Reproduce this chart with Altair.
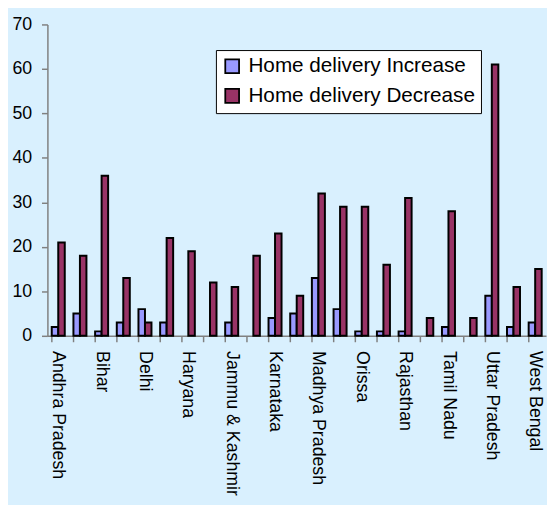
import json
import altair as alt
import pandas as pd

states = ["Andhra Pradesh", "Assam", "Bihar", "Chhattisgarh", "Delhi", "Gujarat",
          "Haryana", "Himachal Pradesh", "Jammu & Kashmir", "Jharkhand", "Karnataka",
          "Kerala", "Madhya Pradesh", "Maharashtra", "Orissa", "Punjab", "Rajasthan",
          "Sikkim", "Tamil Nadu", "Tripura", "Uttar Pradesh", "Uttaranchal", "West Bengal"]
increase = [2, 5, 1, 3, 6, 3, 0, 0, 3, 0, 4, 5, 13, 6, 1, 1, 1, 0, 2, 0, 9, 2, 3]
decrease = [21, 18, 36, 13, 3, 22, 19, 12, 11, 18, 23, 9, 32, 29, 29, 16, 31, 4, 28, 4, 61, 11, 15]
shown_labels = ["Andhra Pradesh", "Bihar", "Delhi", "Haryana", "Jammu & Kashmir", "Karnataka",
                "Madhya Pradesh", "Orissa", "Rajasthan", "Tamil Nadu", "Uttar Pradesh", "West Bengal"]
series = ["Home delivery Increase", "Home delivery Decrease"]
colors = ["#9999FF", "#993366"]
y_ticks = [0, 10, 20, 30, 40, 50, 60, 70]

rows = []
for s, a, b in zip(states, increase, decrease):
    rows.append({"state": s, "series": series[0], "value": a})
    rows.append({"state": s, "series": series[1], "value": b})
df = pd.DataFrame(rows)

FONT = "Liberation Sans"
label_expr = "indexof(" + json.dumps(shown_labels) + ", datum.value) >= 0 ? datum.value : ''"

chart = alt.Chart(df).transform_filter("datum.value > 0").mark_bar(
    stroke="black", strokeWidth=2
).encode(
    x=alt.X("state:N", sort=states,
            scale=alt.Scale(domain=states, paddingInner=0.4, paddingOuter=0.2),
            axis=alt.Axis(title=None, labelAngle=90, labelExpr=label_expr, bandPosition=0,
                          tickSize=6, labelPadding=9, labelFontSize=18, labelFont=FONT,
                          labelColor="black", domainColor="#808080", tickColor="#808080",
                          domainWidth=1.5, tickWidth=1.5, labelAlign="left",
                          labelBaseline="middle", labelLimit=300)),
    xOffset=alt.XOffset("series:N", sort=series,
                        scale=alt.Scale(domain=series, paddingInner=0, paddingOuter=0)),
    y=alt.Y("value:Q", scale=alt.Scale(domain=[0, 70], nice=False),
            axis=alt.Axis(title=None, values=y_ticks, grid=False, tickSize=6, labelPadding=10,
                          labelFontSize=18, labelFont=FONT, labelColor="black",
                          domainColor="#808080", tickColor="#808080",
                          domainWidth=1.5, tickWidth=1.5)),
    color=alt.Color("series:N",
                    scale=alt.Scale(domain=series, range=colors),
                    legend=alt.Legend(title=None, orient="none", legendX=171, legendY=26,
                                      fillColor="white", strokeColor="black", padding=6,
                                      symbolType="square", symbolSize=196,
                                      symbolStrokeColor="black", symbolStrokeWidth=1.8,
                                      symbolOpacity=1, labelFontSize=21, labelFont=FONT,
                                      labelColor="black", labelOffset=6, rowPadding=7,
                                      labelLimit=400)),
).properties(
    width=506, height=316,
    autosize=alt.AutoSizeParams(type="none"),
    padding={"left": 40, "top": 13, "right": 1, "bottom": 168},
    background="#D9F0FE",
).configure_view(stroke=None)

chart.save("out.html", embed_options={"renderer": "svg", "actions": False})
